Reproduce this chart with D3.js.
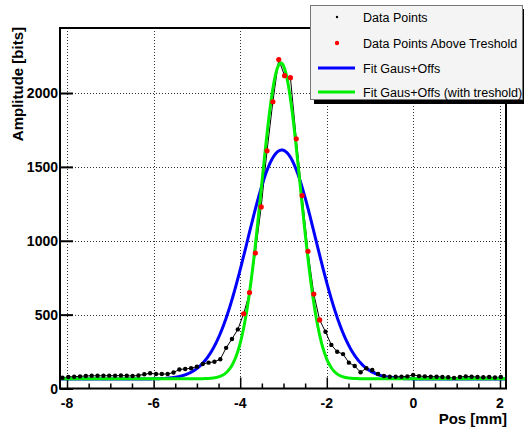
<!DOCTYPE html>
<html>
<head>
<meta charset="utf-8">
<script src="https://cdn.jsdelivr.net/npm/d3@7"></script>
<style>
  body { margin: 0; background: #fff; }
  svg { display: block; font-family: "Liberation Sans", Arial, sans-serif; }
</style>
</head>
<body>
<div id="chart"></div>
<script>
// Scan positions [mm]
var positions = [
  -8.105, -7.970, -7.835, -7.700, -7.565, -7.430, -7.295, -7.160, -7.025, -6.890,
  -6.755, -6.620, -6.485, -6.350, -6.215, -6.080, -5.945, -5.810, -5.675, -5.540,
  -5.405, -5.270, -5.135, -5.000, -4.865, -4.730, -4.595, -4.460, -4.325, -4.190,
  -4.055, -3.920, -3.785, -3.650, -3.515, -3.380, -3.245, -3.110, -2.975, -2.840,
  -2.705, -2.570, -2.435, -2.300, -2.165, -2.030, -1.895, -1.760, -1.625, -1.490,
  -1.355, -1.220, -1.085, -0.950, -0.815, -0.680, -0.545, -0.410, -0.275, -0.140,
  -0.005,  0.130,  0.265,  0.400,  0.535,  0.670,  0.805,  0.940,  1.075,  1.210,
   1.345,  1.480,  1.615,  1.750,  1.885,  2.020
];

// Amplitudes [bits]
var amplitudes = [
   73,  78,  80,  82,  85,  86,  86,  86,  87,  86,
   88,  86,  85,  88,  96, 103,  98,  98,  98, 108,
  129, 132, 137, 148, 166, 175, 181, 198, 275, 335,
  400, 506, 649, 917, 1229, 1609, 1941, 2226, 2117, 2104,
  1690, 1306, 929, 639, 464, 384, 295, 249, 233, 175,
  152, 110, 137, 125,  98,  85,  80,  80,  80,  82,
   92,  84,  82,  80,  80,  78,  76,  72,  78,  82,
   80,  78,  76,  78,  74,  78
];

var threshold = 450;

// Gaus+Offs fit parameters: [constant, mean, sigma, offset]
var fitAll       = [1550, -3.04, 0.79, 64];
var fitThreshold = [2137, -3.06, 0.45, 66];

var xTicks = [-8, -6, -4, -2, 0, 2];
var yTicks = [0, 500, 1000, 1500, 2000];

var legendLabels = ["Data Points", "Data Points Above Treshold", "Fit Gaus+Offs", "Fit Gaus+Offs (with treshold)"];

var W = 524, H = 428;
var frame = { left: 60, right: 506, top: 28, bottom: 388.5 };

var svg = d3.select('#chart').append('svg')
  .attr('width', W)
  .attr('height', H);

var x = d3.scaleLinear().domain([-8.162, 2.139]).range([frame.left, frame.right]);
var y = d3.scaleLinear().domain([0, 2440]).range([frame.bottom, frame.top]);

// Grid
svg.append('g').selectAll('line')
  .data(xTicks)
  .enter().append('line')
  .attr('x1', d => Math.round(x(d)) + 0.5).attr('x2', d => Math.round(x(d)) + 0.5)
  .attr('y1', frame.top).attr('y2', frame.bottom)
  .style('stroke', '#333').style('stroke-width', 1).style('stroke-dasharray', '1,2');
svg.append('g').selectAll('line')
  .data(yTicks.filter(d => d > 0))
  .enter().append('line')
  .attr('x1', frame.left).attr('x2', frame.right)
  .attr('y1', d => Math.round(y(d)) + 0.5).attr('y2', d => Math.round(y(d)) + 0.5)
  .style('stroke', '#333').style('stroke-width', 1).style('stroke-dasharray', '1,2');

// Axes (ticks pointing inside the frame)
var xAxis = d3.axisTop(x).tickValues(d3.range(-8, 2.01, 0.5)).tickFormat('')
  .tickSize(5).tickSizeOuter(0);
var gx = svg.append('g').attr('transform', 'translate(0,' + frame.bottom + ')').call(xAxis);
gx.select('.domain').remove();
gx.selectAll('line').style('stroke', '#000').style('stroke-width', 1.5)
  .attr('y2', d => xTicks.indexOf(d) >= 0 ? -11 : -5);

var yAxis = d3.axisRight(y).tickValues(yTicks).tickFormat('').tickSize(13).tickSizeOuter(0);
var gy = svg.append('g').attr('transform', 'translate(' + frame.left + ',0)').call(yAxis);
gy.select('.domain').remove();
gy.selectAll('line').style('stroke', '#000').style('stroke-width', 2);

// Tick labels
svg.append('g').selectAll('text')
  .data(xTicks)
  .enter().append('text')
  .attr('x', d => x(d)).attr('y', 408)
  .attr('text-anchor', 'middle')
  .style('font-size', '14px').style('font-weight', 'bold')
  .text(d => d);
svg.append('g').selectAll('text')
  .data(yTicks)
  .enter().append('text')
  .attr('x', 58).attr('y', d => y(d) + 5)
  .attr('text-anchor', 'end')
  .style('font-size', '14px').style('font-weight', 'bold')
  .text(d => d);

// Axis titles
svg.append('text')
  .attr('x', 507).attr('y', 424)
  .attr('text-anchor', 'end')
  .style('font-size', '15px').style('font-weight', 'bold')
  .text('Pos [mm]');
svg.append('text')
  .attr('transform', 'translate(23,27) rotate(-90)')
  .attr('text-anchor', 'end')
  .style('font-size', '15px').style('font-weight', 'bold')
  .text('Amplitude [bits]');

// Clip
svg.append('clipPath').attr('id', 'clip')
  .append('rect')
  .attr('x', frame.left).attr('y', frame.top)
  .attr('width', frame.right - frame.left).attr('height', frame.bottom - frame.top);
var plot = svg.append('g').attr('clip-path', 'url(#clip)');

// Data line
var points = positions.map((p, i) => ({ x: p, y: amplitudes[i] }));
var line = d3.line().x(d => x(d.x)).y(d => y(d.y));
plot.append('path')
  .datum(points)
  .attr('d', line)
  .style('fill', 'none').style('stroke', '#000').style('stroke-width', 1);

// Fits
function gausOffs(p, v){
  return p[0] * Math.exp(-0.5 * Math.pow((v - p[1]) / p[2], 2)) + p[3];
}
var samples = d3.range(x.domain()[0], x.domain()[1] + 0.01, 0.01);
[[fitAll, '#0000ff'], [fitThreshold, '#00ee00']].forEach(function(f){
  plot.append('path')
    .datum(samples.map(v => ({ x: v, y: gausOffs(f[0], v) })))
    .attr('d', line)
    .style('fill', 'none').style('stroke', f[1]).style('stroke-width', 3);
});

// Markers
plot.append('g').selectAll('circle')
  .data(points)
  .enter().append('circle')
  .attr('cx', d => x(d.x)).attr('cy', d => y(d.y))
  .attr('r', d => d.y > threshold ? 2.6 : 2.2)
  .style('fill', d => d.y > threshold ? '#ff0000' : '#000');

// Frame
svg.append('rect')
  .attr('x', frame.left).attr('y', frame.top)
  .attr('width', frame.right - frame.left).attr('height', frame.bottom - frame.top)
  .style('fill', 'none').style('stroke', '#000').style('stroke-width', 2);

// Legend
var lg = svg.append('g');
lg.append('rect').attr('x', 314).attr('y', 9).attr('width', 212).attr('height', 95).style('fill', '#000');
lg.append('rect').attr('x', 310.5).attr('y', 5.5).attr('width', 212).attr('height', 94)
  .style('fill', '#f4f4f4').style('stroke', '#777').style('stroke-width', 1);
var rowY = [17, 43, 68, 92];
lg.selectAll('text')
  .data(legendLabels)
  .enter().append('text')
  .attr('x', 363).attr('y', (d, i) => rowY[i] + 4.5)
  .style('font-size', '12.5px')
  .text(d => d);
lg.append('circle').attr('cx', 337).attr('cy', rowY[0]).attr('r', 1.2).style('fill', '#000');
lg.append('circle').attr('cx', 337).attr('cy', rowY[1]).attr('r', 2.2).style('fill', '#ff0000');
lg.append('line').attr('x1', 318).attr('x2', 355).attr('y1', rowY[2]).attr('y2', rowY[2])
  .style('stroke', '#0000ff').style('stroke-width', 3);
lg.append('line').attr('x1', 318).attr('x2', 355).attr('y1', rowY[3]).attr('y2', rowY[3])
  .style('stroke', '#00ee00').style('stroke-width', 3);
</script>
</body>
</html>
